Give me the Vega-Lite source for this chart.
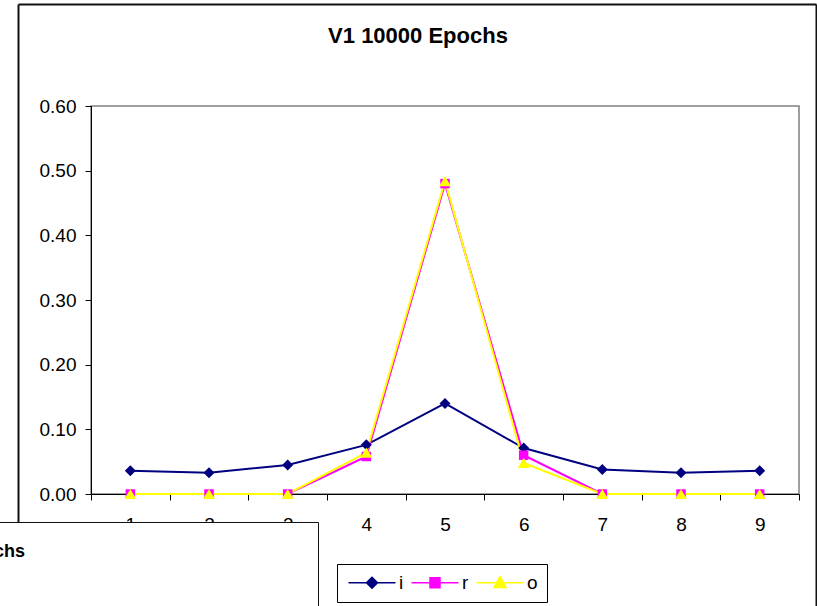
{
  "$schema": "https://vega.github.io/schema/vega-lite/v6.json",
  "width": 708,
  "height": 388,
  "autosize": {"type": "none"},
  "padding": {"left": 91, "top": 106, "right": 18, "bottom": 112},
  "background": "#ffffff",
  "title": {
    "text": "V1 10000 Epochs",
    "font": "Liberation Sans",
    "fontSize": 22,
    "fontWeight": "bold",
    "color": "#000000",
    "anchor": "middle",
    "frame": "group",
    "baseline": "alphabetic",
    "dx": -27,
    "offset": -64
  },
  "config": {
    "font": "Liberation Sans",
    "view": {"stroke": "#808080", "strokeWidth": 1.5},
    "axis": {"grid": false}
  },
  "data": {
    "values": [
      {"step": 1, "series": "i", "value": 0.036},
      {"step": 2, "series": "i", "value": 0.033},
      {"step": 3, "series": "i", "value": 0.045},
      {"step": 4, "series": "i", "value": 0.076},
      {"step": 5, "series": "i", "value": 0.140},
      {"step": 6, "series": "i", "value": 0.071},
      {"step": 7, "series": "i", "value": 0.038},
      {"step": 8, "series": "i", "value": 0.033},
      {"step": 9, "series": "i", "value": 0.036},
      {"step": 1, "series": "r", "value": 0.0},
      {"step": 2, "series": "r", "value": 0.0},
      {"step": 3, "series": "r", "value": 0.0},
      {"step": 4, "series": "r", "value": 0.058},
      {"step": 5, "series": "r", "value": 0.480},
      {"step": 6, "series": "r", "value": 0.060},
      {"step": 7, "series": "r", "value": 0.0},
      {"step": 8, "series": "r", "value": 0.0},
      {"step": 9, "series": "r", "value": 0.0},
      {"step": 1, "series": "o", "value": 0.0},
      {"step": 2, "series": "o", "value": 0.0},
      {"step": 3, "series": "o", "value": 0.0},
      {"step": 4, "series": "o", "value": 0.064},
      {"step": 5, "series": "o", "value": 0.484},
      {"step": 6, "series": "o", "value": 0.048},
      {"step": 7, "series": "o", "value": 0.0},
      {"step": 8, "series": "o", "value": 0.0},
      {"step": 9, "series": "o", "value": 0.0}
    ]
  },
  "layer": [
    {
      "encoding": {
        "x": {
          "field": "step",
          "type": "ordinal",
          "scale": {"type": "band", "paddingInner": 0, "paddingOuter": 0},
          "axis": {
            "orient": "bottom",
            "title": null,
            "labelAngle": 0,
            "tickBand": "extent",
            "tickSize": 6,
            "tickColor": "#000000",
            "tickWidth": 1,
            "domainColor": "#000000",
            "domainWidth": 1,
            "labelFont": "Liberation Sans",
            "labelFontSize": 19,
            "labelColor": "#000000",
            "labelPadding": 15
          }
        },
        "y": {
          "field": "value",
          "type": "quantitative",
          "scale": {"domain": [0, 0.6], "nice": false},
          "axis": {
            "title": null,
            "format": ".2f",
            "values": [0, 0.1, 0.2, 0.3, 0.4, 0.5, 0.6],
            "tickSize": 6,
            "tickColor": "#000000",
            "tickWidth": 1,
            "domainColor": "#000000",
            "domainWidth": 1,
            "labelFont": "Liberation Sans",
            "labelFontSize": 19,
            "labelColor": "#000000",
            "labelPadding": 9
          }
        },
        "color": {
          "field": "series",
          "type": "nominal",
          "scale": {"domain": ["i", "r", "o"], "range": ["#000080", "#ff00ff", "#ffff00"]},
          "legend": {
            "orient": "none",
            "legendX": 246,
            "legendY": 458,
            "direction": "horizontal",
            "title": null,
            "fillColor": "#ffffff",
            "strokeColor": "#000000",
            "padding": 9,
            "symbolSize": 196,
            "symbolStrokeWidth": 1.5,
            "labelFont": "Liberation Sans",
            "labelFontSize": 19,
            "labelColor": "#000000",
            "labelOffset": 34,
            "columnPadding": 4,
            "zindex": 1,
            "encode": {
              "symbols": {
                "update": {
                  "shape": {"signal": "datum.value === 'i' ? 'M-1,0L5.714,0M2.357,-0.786L3.143,0L2.357,0.786L1.571,0Z' : datum.value === 'r' ? 'M-1,0L5.714,0M1.643,-0.714L3.071,-0.714L3.071,0.714L1.643,0.714Z' : 'M-1,0L5.714,0M2.357,-0.9L3.214,0.67L1.5,0.67Z'"},
                  "size": {"value": 196},
                  "fill": {"signal": "datum.value === 'i' ? '#000080' : datum.value === 'r' ? '#ff00ff' : '#ffff00'"},
                  "stroke": {"signal": "datum.value === 'i' ? '#000080' : datum.value === 'r' ? '#ff00ff' : '#ffff00'"},
                  "strokeWidth": {"value": 1.5},
                  "opacity": {"value": 1},
                  "fillOpacity": {"value": 1}
                }
              }
            }
          }
        }
      },
      "layer": [
        {"mark": {"type": "line", "strokeWidth": 2}},
        {
          "transform": [{"filter": "datum.series === 'i'"}],
          "mark": {"type": "point", "shape": "diamond", "size": 121, "filled": true, "opacity": 1}
        },
        {
          "transform": [{"filter": "datum.series === 'r'"}],
          "mark": {"type": "point", "shape": "square", "size": 90, "filled": true, "opacity": 1}
        },
        {
          "transform": [{"filter": "datum.series === 'o'"}],
          "mark": {"type": "point", "shape": "triangle-up", "size": 140, "filled": true, "opacity": 1}
        }
      ]
    },
    {
      "mark": {"type": "point", "opacity": 0},
      "encoding": {
        "x": {
          "datum": 0,
          "type": "quantitative",
          "scale": {"domain": [0, 1], "range": [-73, 725]},
          "axis": {"orient": "top", "offset": 102, "ticks": false, "labels": false, "title": null, "domainColor": "#111111", "domainWidth": 2}
        },
        "y": {
          "datum": 0,
          "type": "quantitative",
          "scale": {"domain": [0, 1], "range": [-102, 500]},
          "axis": {"orient": "left", "offset": 73, "ticks": false, "labels": false, "title": null, "domainColor": "#111111", "domainWidth": 2}
        }
      }
    },
    {
      "mark": {"type": "point", "opacity": 0},
      "encoding": {
        "x": {"datum": 0, "type": "quantitative", "scale": {"domain": [0, 1]}, "axis": null},
        "y": {
          "datum": 0,
          "type": "quantitative",
          "scale": {"domain": [0, 1], "range": [-102, 500]},
          "axis": {"orient": "right", "offset": 17, "ticks": false, "labels": false, "title": null, "domainColor": "#111111", "domainWidth": 2}
        }
      }
    },
    {
      "mark": {"type": "point", "opacity": 0},
      "encoding": {
        "fill": {
          "datum": 0,
          "type": "quantitative",
          "scale": {"domain": [0, 1], "range": ["#ffffff", "#ffffff"]},
          "legend": {
            "orient": "none",
            "legendX": -118,
            "legendY": 416,
            "direction": "horizontal",
            "gradientLength": 303,
            "gradientThickness": 120,
            "gradientStrokeWidth": 0,
            "gradientStrokeColor": "#ffffff",
            "labelOpacity": 0,
            "labelExpr": "''",
            "title": "chs",
            "titleFont": "Liberation Sans",
            "titleFontSize": 18,
            "titleFontWeight": "bold",
            "titleColor": "#000000",
            "titlePadding": 5,
            "fillColor": "#ffffff",
            "strokeColor": "#111111",
            "padding": 21,
            "zindex": 2
          }
        }
      }
    }
  ],
  "resolve": {
    "scale": {"x": "independent", "y": "independent"},
    "axis": {"x": "independent", "y": "independent"}
  }
}
